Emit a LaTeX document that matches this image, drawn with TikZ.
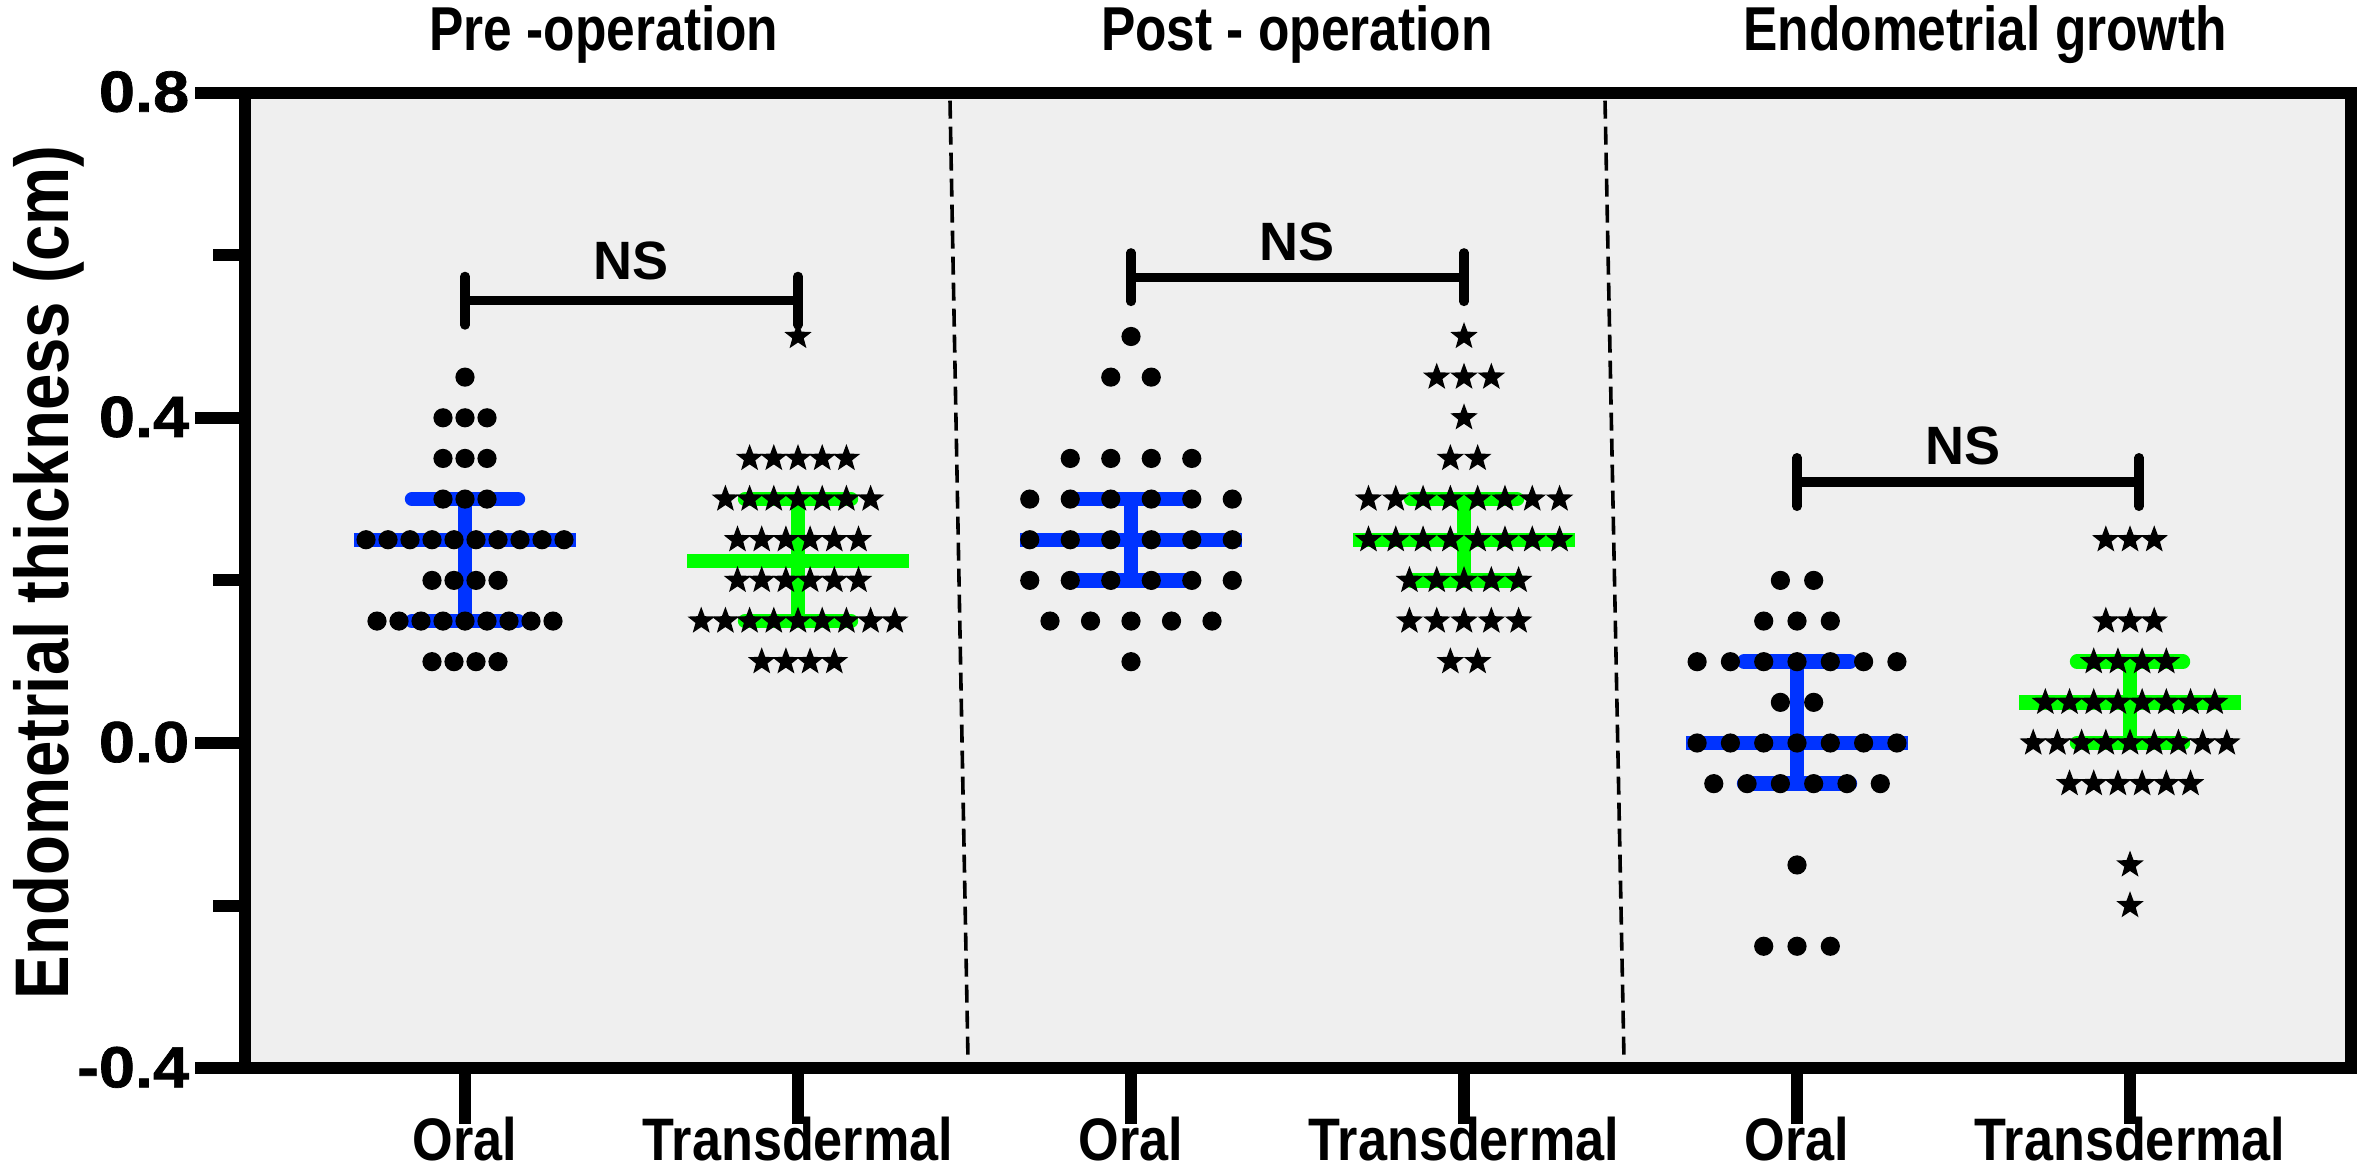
\documentclass[tikz,border=0pt]{standalone}
\usepackage{fontspec}
\usetikzlibrary{calc}
\setmainfont{Liberation Sans}
\newfontfamily\titlefont[FakeStretch=0.83]{Liberation Sans}
\newfontfamily\labfont[FakeStretch=0.87]{Liberation Sans}
\newfontfamily\ylabfont[FakeStretch=0.86]{Liberation Sans}
\newfontfamily\numfont[FakeStretch=1.12,FakeBold=1.2]{Liberation Sans}
\newfontfamily\nsfont{Liberation Sans}
\definecolor{bggrey}{RGB}{239,239,239}
\definecolor{barblue}{RGB}{0,51,255}
\definecolor{bargreen}{RGB}{0,255,0}
\tikzset{
  starmark/.pic={\fill[black] (90:3.6pt) -- (126:1.5pt) -- (162:3.6pt) -- (198:1.5pt) -- (234:3.6pt) -- (270:1.5pt) -- (306:3.6pt) -- (342:1.5pt) -- (18:3.6pt) -- (54:1.5pt) -- cycle;},
  frameline/.style={line width=3pt, line cap=rect},
  tickline/.style={line width=3pt},
  bracketline/.style={line width=2.3pt, line cap=round},
  sepline/.style={line width=0.9pt, dash pattern=on 4.5pt off 2pt},
  barline/.style={line width=3.6pt},
  capline/.style={line width=3.6pt, line cap=round},
  titletext/.style={font=\titlefont\bfseries\fontsize{15.5pt}{15.5pt}\selectfont, anchor=base, inner sep=0pt},
  axistext/.style={font=\labfont\bfseries\fontsize{15pt}{15pt}\selectfont, anchor=base, inner sep=0pt},
  ticktext/.style={font=\numfont\bfseries\fontsize{14.5pt}{14.5pt}\selectfont, anchor=base east, inner sep=0pt},
  nstext/.style={font=\nsfont\bfseries\fontsize{13.5pt}{13.5pt}\selectfont, anchor=base, inner sep=0pt},
  ylabtext/.style={font=\ylabfont\bfseries\fontsize{19pt}{19pt}\selectfont, anchor=base, rotate=90, inner sep=0pt}
}
\newcommand\dotsrow[4]{\foreach \k in {1,...,#4}{\fill[black] ({#1+(\k-(#4+1)/2)*#2},#3) circle[radius=2.4pt];}}
\newcommand\starsrow[4]{\foreach \k in {1,...,#4}{\pic at ({#1+(\k-(#4+1)/2)*#2},#3) {starmark};}}
\newcommand\errbar[5]{% colour, centre, mean, low, high
  \draw[#1, barline] (#2,#4) -- (#2,#5);
  \draw[#1, capline] ({#2-53},#5) -- ({#2+53},#5);
  \draw[#1, capline] ({#2-53},#4) -- ({#2+53},#4);
  \draw[#1, barline] ({#2-111},#3) -- ({#2+111},#3);}
\begin{document}
\begin{tikzpicture}[x=0.25pt,y=203.25pt]
\useasboundingbox (0,-0.52276) rectangle (2362,0.91390);
% plot area
\fill[bggrey] (245,-0.4) rectangle (2351,0.8);
% separators
\draw[sepline] (950,0.79) -- (968,-0.39);
\draw[sepline] (1605,0.79) -- (1624,-0.39);
% error bars
\errbar{barblue}{465}{0.25}{0.15}{0.30}
\errbar{bargreen}{798}{0.224}{0.15}{0.30}
\errbar{barblue}{1131}{0.25}{0.20}{0.30}
\errbar{bargreen}{1464}{0.25}{0.20}{0.30}
\errbar{barblue}{1797}{0.0}{-0.05}{0.10}
\errbar{bargreen}{2130}{0.05}{0.0}{0.10}
% pre-operation oral
\foreach \v/\n in {0.45/1,0.40/3,0.35/3,0.30/3,0.25/10,0.20/4,0.15/9,0.10/4}{\dotsrow{465}{22}{\v}{\n}}
% pre-operation transdermal
\foreach \v/\n in {0.50/1,0.35/5,0.30/7,0.25/6,0.20/6,0.15/9,0.10/4}{\starsrow{798}{24.2}{\v}{\n}}
% post-operation oral
\foreach \v/\n in {0.50/1,0.45/2,0.35/4,0.30/6,0.25/6,0.20/6,0.15/5,0.10/1}{\dotsrow{1131}{40.5}{\v}{\n}}
% post-operation transdermal
\foreach \v/\n in {0.50/1,0.45/3,0.40/1,0.35/2,0.30/8,0.25/8,0.20/5,0.15/5,0.10/2}{\starsrow{1464}{27.3}{\v}{\n}}
% growth oral
\foreach \v/\n in {0.20/2,0.15/3,0.10/7,0.05/2,0.0/7,-0.05/6,-0.15/1,-0.25/3}{\dotsrow{1797}{33.3}{\v}{\n}}
% growth transdermal
\foreach \v/\n in {0.25/3,0.15/3,0.10/4,0.05/8,0.0/9,-0.05/6,-0.15/1,-0.20/1}{\starsrow{2130}{24.2}{\v}{\n}}
% frame
\draw[frameline] (245,-0.4) rectangle (2351,0.8);
% y ticks
\foreach \v in {0.8,0.4,0.0,-0.4}{\draw[tickline] (245,\v) -- (195,\v);}
\foreach \v in {0.6,0.2,-0.2}{\draw[tickline] (245,\v) -- (213,\v);}
\node[ticktext] (l08) at (190,{0.8-0.0235}) {0.8};
\node[ticktext] (l04) at (190,{0.4-0.0235}) {0.4};
\node[ticktext] (l00) at (190,{0.0-0.0235}) {0.0};
\node[ticktext] (lm04) at (190,{-0.4-0.0235}) {-0.4};
% x ticks
\foreach \x in {465,798,1131,1464,1797,2130}{\draw[tickline] (\x,-0.4) -- (\x,-0.469);}
\node[axistext] (o1) at (465,-0.513) {Oral};
\node[axistext] (t1) at (798,-0.513) {Transdermal};
\node[axistext] (o2) at (1131,-0.513) {Oral};
\node[axistext] (t2) at (1464,-0.513) {Transdermal};
\node[axistext] (o3) at (1797,-0.513) {Oral};
\node[axistext] (t3) at (2130,-0.513) {Transdermal};
% titles
\node[titletext] (h1) at (604,0.852) {Pre -operation};
\node[titletext] (h2) at (1297,0.852) {Post - operation};
\node[titletext] (h3) at (1985,0.852) {Endometrial growth};
% y label
\node[ylabtext] (ylab) at (68,0.21) {Endometrial thickness (cm)};
% NS brackets
\coordinate (b1l) at (465,0.544); \coordinate (b1r) at (798,0.544);
\coordinate (b2l) at (1131,0.573); \coordinate (b2r) at (1464,0.573);
\coordinate (b3l) at (1797,0.321); \coordinate (b3r) at (2139,0.321);
\draw[bracketline] (b1l) -- (b1r);
\draw[bracketline] ($(b1l)+(0,0.03)$) -- ($(b1l)+(0,-0.03)$);
\draw[bracketline] ($(b1r)+(0,0.03)$) -- ($(b1r)+(0,-0.03)$);
\draw[bracketline] (b2l) -- (b2r);
\draw[bracketline] ($(b2l)+(0,0.03)$) -- ($(b2l)+(0,-0.03)$);
\draw[bracketline] ($(b2r)+(0,0.03)$) -- ($(b2r)+(0,-0.03)$);
\draw[bracketline] (b3l) -- (b3r);
\draw[bracketline] ($(b3l)+(0,0.03)$) -- ($(b3l)+(0,-0.03)$);
\draw[bracketline] ($(b3r)+(0,0.03)$) -- ($(b3r)+(0,-0.03)$);
\node[nstext] (ns1) at (631,0.57) {NS};
\node[nstext] (ns2) at (1297,0.593) {NS};
\node[nstext] (ns3) at (1963,0.343) {NS};
\end{tikzpicture}
\end{document}
